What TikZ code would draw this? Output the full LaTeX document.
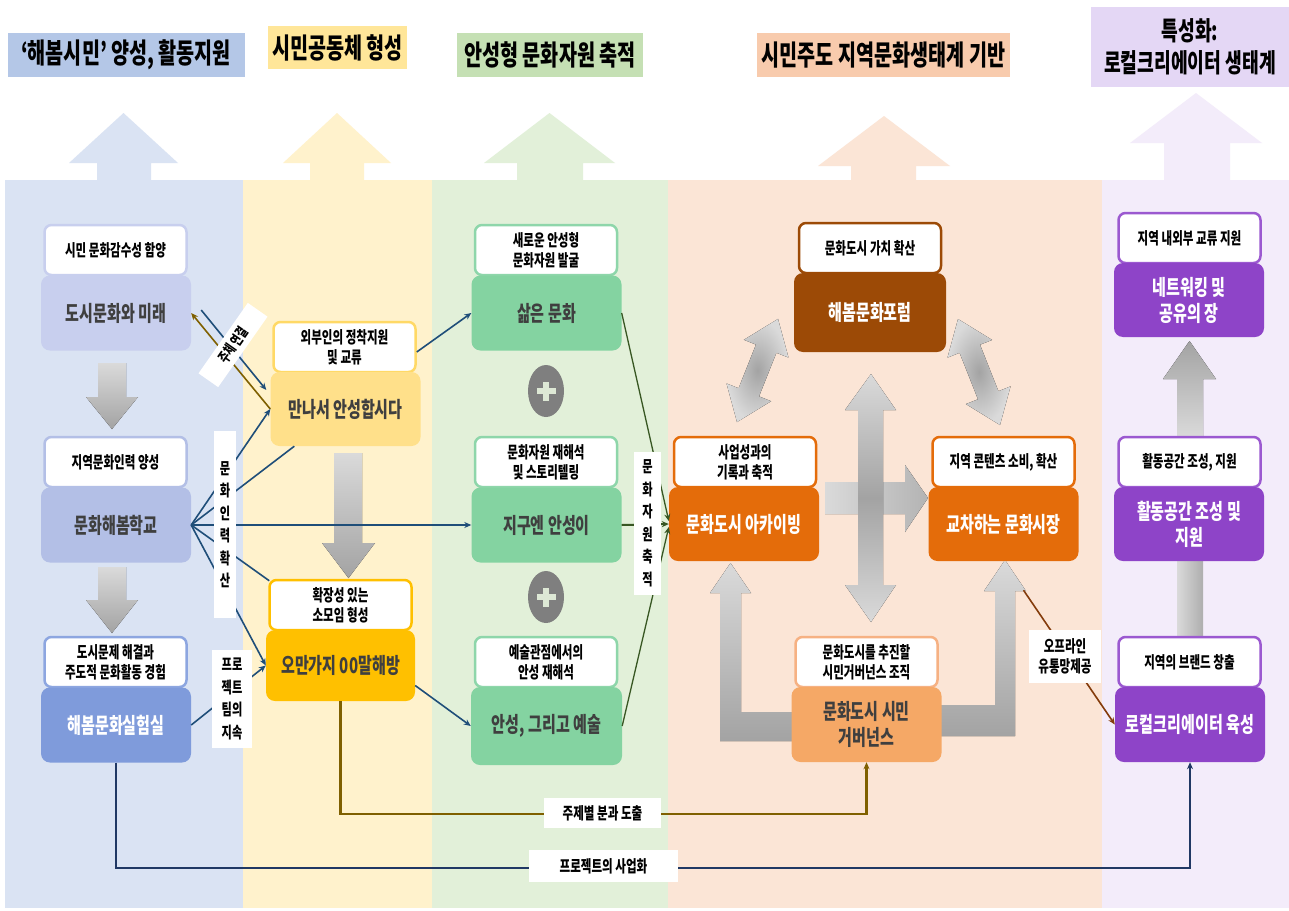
\documentclass[tikz,border=0pt]{standalone}
\usepackage{fontspec}
\setmainfont{Noto Sans CJK KR}[FakeStretch=0.7]
\usetikzlibrary{arrows.meta,calc,shapes.geometric}
\definecolor{bgA}{HTML}{DAE3F3}
\definecolor{bgB}{HTML}{FFF2CC}
\definecolor{bgC}{HTML}{E2F0D9}
\definecolor{bgD}{HTML}{FBE5D6}
\definecolor{bgE}{HTML}{F3ECFA}
\definecolor{hdA}{HTML}{B4C7E7}
\definecolor{hdB}{HTML}{FFE699}
\definecolor{hdC}{HTML}{C5E0B4}
\definecolor{hdD}{HTML}{F8CBAD}
\definecolor{hdE}{HTML}{E4D7F5}
\definecolor{cOneA}{HTML}{C8CFEE}
\definecolor{cOneB}{HTML}{B3BFE6}
\definecolor{cOneC}{HTML}{7F9BDB}
\definecolor{bOneC}{HTML}{8DA6E0}
\definecolor{cTwoA}{HTML}{FFE08A}
\definecolor{bTwoA}{HTML}{FFD966}
\definecolor{cTwoB}{HTML}{FFC000}
\definecolor{cThr}{HTML}{84D3A1}
\definecolor{bThr}{HTML}{8ED6AA}
\definecolor{cFourA}{HTML}{9C4A06}
\definecolor{cFourB}{HTML}{E46C0A}
\definecolor{cFourD}{HTML}{F5A866}
\definecolor{bFourD}{HTML}{F6B183}
\definecolor{cFive}{HTML}{8E44C8}
\definecolor{bFive}{HTML}{9B59D0}
\definecolor{tdark}{HTML}{3F3F3F}
\definecolor{lBlue}{HTML}{1F4E79}
\definecolor{lBrown}{HTML}{7F6000}
\definecolor{lGreen}{HTML}{385723}
\definecolor{lNavy}{HTML}{203864}
\definecolor{lBrownB}{HTML}{843C0C}
\definecolor{gL}{HTML}{DADADA}
\definecolor{gD}{HTML}{A3A3A3}
\definecolor{cPlus}{HTML}{7F7F7F}
\definecolor{cPlusIn}{HTML}{DDE8D5}
\newcommand\fhead{\bfseries\fontsize{28}{32}\selectfont}
\newcommand\fmain{\bfseries\fontsize{21.5}{26}\selectfont}
\newcommand\fhdr{\bfseries\fontsize{16.5}{20}\selectfont}
\newcommand\flab{\bfseries\fontsize{15}{20}\selectfont}
\newcommand\flabr{\bfseries\fontsize{14.5}{18}\selectfont}
\newcommand\flabv{\bfseries\fontsize{16}{22.5}\selectfont}
\begin{document}
\begin{tikzpicture}[x=1pt,y=-1pt,
  hdr/.style={draw=#1, fill=white, rounded corners=7pt, line width=2.5pt, minimum width=142pt, minimum height=50pt, inner sep=0pt, align=center, font=\fhdr},
  mbox/.style 2 args={fill=#1, text=#2, rounded corners=9pt, minimum width=150pt, minimum height=75pt, inner sep=0pt, align=center, font=\fmain},
  headbox/.style={fill=#1, inner sep=0pt, align=center, font=\fhead},
  lab/.style={fill=white, inner sep=0pt, align=center, font=\flab},
  ln/.style={draw=#1, line width=1.6pt},
  tip/.style={-{Stealth[length=7pt,width=6pt]}},
  greyv/.style={top color=gL, bottom color=gD},
  greyr/.style={inner color=gD, outer color=gL}]

% canvas
\path[fill=white] (0,0) rectangle (1289,910);
% columns
\fill[bgA] (5,180) rectangle (243,908);
\fill[bgB] (243,180) rectangle (432,908);
\fill[bgC] (432,180) rectangle (668,908);
\fill[bgD] (668,180) rectangle (1102,908);
\fill[bgE] (1102,180) rectangle (1289,908);

% big up arrows
\fill[bgA] (123.5,113) -- (178,163) -- (151,163) -- (151,181) -- (97,181) -- (97,163) -- (69,163) -- cycle;
\fill[bgB] (337,113) -- (391,163) -- (364,163) -- (364,181) -- (310,181) -- (310,163) -- (283,163) -- cycle;
\fill[bgC] (549.5,113) -- (615,163) -- (583,163) -- (583,181) -- (517,181) -- (517,163) -- (484,163) -- cycle;
\fill[bgD] (884,116) -- (950,166) -- (916,166) -- (916,181) -- (851,181) -- (851,166) -- (818,166) -- cycle;
\fill[bgE] (1196,93) -- (1262,143) -- (1230,143) -- (1230,181) -- (1164,181) -- (1164,143) -- (1130,143) -- cycle;

% headings
\node[headbox=hdA, minimum width=237pt, minimum height=44pt] (H1) at (126,55) {‘해봄시민’ 양성, 활동지원};
\node[headbox=hdB, minimum width=139pt, minimum height=43pt] (H2) at (337.5,47.5) {시민공동체 형성};
\node[headbox=hdC, minimum width=186pt, minimum height=44pt] (H3) at (550,55) {안성형 문화자원 축적};
\node[headbox=hdD, minimum width=253pt, minimum height=44pt] (H4) at (883.5,55) {시민주도 지역문화생태계 기반};
\node[headbox=hdE, minimum width=198pt, minimum height=80pt, font=\bfseries\fontsize{26}{32}\selectfont] (H5) at (1190,47) {특성화:\\로컬크리에이터 생태계};

% grey block arrows
\fill[greyv] (98,363) -- (126,363) -- (126,397) -- (138,397) -- (112,429) -- (86,397) -- (98,397) -- cycle;
\fill[greyv] (98,567) -- (126,567) -- (126,600) -- (138,600) -- (112,633) -- (86,600) -- (98,600) -- cycle;
\fill[greyv] (334,453) -- (362,453) -- (362,543) -- (375,543) -- (348.5,578) -- (322,543) -- (334,543) -- cycle;
\fill[top color=gD, bottom color=gL] (1189.5,341) -- (1216,379) -- (1203,379) -- (1203,437) -- (1177,437) -- (1177,379) -- (1163,379) -- cycle;
\fill[left color=gL, right color=gD!80!gL] (1177,559) rectangle (1203,637);
% centre cross
\fill[left color=gL, right color=gD!70!gL] (825,482) -- (905,482) -- (905,465) -- (928,498) -- (905,532) -- (905,514) -- (825,514) -- cycle;
\fill[top color=gL, bottom color=gL, middle color=gD] (871,374) -- (896,410) -- (883,410) -- (883,585) -- (896,585) -- (871,622) -- (845,585) -- (858,585) -- (858,410) -- (845,410) -- cycle;
\begin{scope}[shift={(757.5,370.5)}, rotate=68.3]
\fill[greyr] (-55.5,0) -- (-23.5,24) -- (-23.5,11) -- (23.5,11) -- (23.5,24) -- (55.5,0) -- (23.5,-24) -- (23.5,-11) -- (-23.5,-11) -- (-23.5,-24) -- cycle;
\end{scope}
\begin{scope}[shift={(979,372)}, rotate=111.6]
\fill[greyr] (-57,0) -- (-25,24) -- (-25,11) -- (25,11) -- (25,24) -- (57,0) -- (25,-24) -- (25,-11) -- (-25,-11) -- (-25,-24) -- cycle;
\end{scope}
% L arrows from governance
\fill[top color=gL, bottom color=gD] (792,712) -- (741,712) -- (741,593) -- (751,593) -- (730.5,563) -- (710,593) -- (720,593) -- (720,741) -- (792,741) -- cycle;
\fill[top color=gL, bottom color=gD] (941,705) -- (995,705) -- (995,591) -- (984,591) -- (1005,560) -- (1026,591) -- (1015,591) -- (1015,736) -- (941,736) -- cycle;

% column 1
\node[hdr=cOneA] (h1a) at (115.5,250) {시민 문화감수성 함양};
\node[mbox={cOneA}{tdark}] (m1a) at (116,313) {도시문화와 미래};
\node[hdr=cOneB] (h1b) at (115.5,462) {지역문화인력 양성};
\node[mbox={cOneB}{tdark}] (m1b) at (116,525) {문화해봄학교};
\node[hdr=bOneC] (h1c) at (115.5,662) {도시문제 해결과\\주도적 문화활동 경험};
\node[mbox={cOneC}{white}] (m1c) at (116,725) {해봄문화실험실};

% column 2
\node[hdr=bTwoA] (h2a) at (344.5,347) {외부인의 정착지원\\및 교류};
\node[mbox={cTwoA}{tdark}, minimum height=74pt] (m2a) at (345.5,409) {만나서 안성합시다};
\node[hdr=cTwoB] (h2b) at (340.5,605) {확장성 있는\\소모임 형성};
\node[mbox={cTwoB}{tdark}, minimum width=149pt, minimum height=71pt] (m2b) at (340.5,665.5) {오만가지 00말해방};

% column 3
\node[hdr=bThr] (h3a) at (546,250) {새로운 안성형\\문화자원 발굴};
\node[mbox={cThr}{tdark}] (m3a) at (546.5,313) {삶은 문화};
\node[hdr=bThr] (h3b) at (546,462) {문화자원 재해석\\및 스토리텔링};
\node[mbox={cThr}{tdark}] (m3b) at (546.5,525) {지구엔 안성이};
\node[hdr=bThr] (h3c) at (546,662) {예술관점에서의\\안성 재해석};
\node[mbox={cThr}{tdark}, minimum width=151pt, minimum height=78pt] (m3c) at (546.5,726) {안성, 그리고 예술};
\node[ellipse, fill=cPlus, minimum width=36pt, minimum height=52pt, inner sep=0pt] (p1) at (546,391) {};
\node[ellipse, fill=cPlus, minimum width=36pt, minimum height=52pt, inner sep=0pt] (p2) at (546,597) {};
\foreach \p in {p1,p2}{
  \fill[cPlusIn] ($(\p)+(-9.5,-2.6)$) rectangle ($(\p)+(9.5,2.6)$);
  \fill[cPlusIn] ($(\p)+(-2.6,-9.5)$) rectangle ($(\p)+(2.6,9.5)$);
}

% column 4
\node[hdr=cFourA] (h4a) at (870,248) {문화도시 가치 확산};
\node[mbox={cFourA}{white}, minimum width=152pt, minimum height=79pt] (m4a) at (870,312.5) {해봄문화포럼};
\node[hdr=cFourB] (h4b) at (745,462) {사업성과의\\기록과 축적};
\node[mbox={cFourB}{white}, minimum height=74pt] (m4b) at (744,524) {문화도시 아카이빙};
\node[hdr=cFourB] (h4c) at (1003.5,462) {지역 콘텐츠 소비, 확산};
\node[mbox={cFourB}{white}, minimum height=74pt] (m4c) at (1003.5,524) {교차하는 문화시장};
\node[hdr=bFourD] (h4d) at (866.5,662) {문화도시를 추진할\\시민거버넌스 조직};
\node[mbox={cFourD}{tdark}] (m4d) at (866.5,724.5) {문화도시 시민\\거버넌스};

% column 5
\node[hdr=bFive] (h5a) at (1189.5,238) {지역 내외부 교류 지원};
\node[mbox={cFive}{white}, minimum height=74pt] (m5a) at (1189,300) {네트워킹 및\\공유의 장};
\node[hdr=bFive] (h5b) at (1189.5,462) {활동공간 조성, 지원};
\node[mbox={cFive}{white}, minimum height=74pt] (m5b) at (1189,524) {활동공간 조성 및\\지원};
\node[hdr=bFive] (h5c) at (1189.5,662) {지역의 브랜드 창출};
\node[mbox={cFive}{white}] (m5c) at (1190,724.5) {로컬크리에이터 육성};

% connectors
\draw[ln=lBrown, tip] (m2a.west) -- (m1a.east);
\draw[ln=lBlue, tip] ($(m1a.east)+(10,-3)$) -- ($(m2a.west)+(-4,-19)$);
\draw[ln=lBlue, tip] (m1b.east) -- (m2a.west);
\draw[ln=lBlue] (m1b.east) -- ($(m2a.south west)+(24,0)$);
\draw[ln=lBlue, tip] (m1b.east) -- (m3b.west);
\draw[ln=lBlue] (m1b.east) -- ($(h2b.north west)+(1,2)$);
\draw[ln=lBlue, tip] (m1b.east) -- (m2b.west);
\draw[ln=lBlue, tip] (m1c.east) -- (m2b.west);
\draw[ln=lBlue, tip] ($(h2a.east)+(0,5)$) -- (m3a.west);
\draw[ln=lBlue, tip] ($(m2b.east)+(0,20)$) -- (m3c.west);
\draw[ln=lGreen, line width=1.3pt, tip] (m3a.east) -- ($(m4b.west)+(0,-3)$);
\draw[ln=lGreen, line width=2pt, tip] (m3b.east) -- (m4b.west);
\draw[ln=lGreen, line width=1.3pt, tip] (m3c.east) -- ($(m4b.west)+(0,3)$);
\coordinate (yOl) at (0,814);
\coordinate (yNv) at (0,868);
\draw[ln=lBrown, line width=2.4pt, tip] (m2b.south) -- (m2b.south |- yOl) -| (m4d.south);
\draw[ln=lNavy, line width=2.4pt, tip] (m1c.south) -- (m1c.south |- yNv) -| (m5c.south);
\draw[ln=lBrownB, tip] ($(m4c.south)+(20,29)$) -- (m5c.west);

% labels
\node[lab, rotate=55, minimum width=86pt, minimum height=24pt, font=\flabr] (lJu) at (233,345) {주체 연결};
\node[lab, minimum width=22pt, minimum height=187pt, font=\flabv] (lMun) at (225,524.5) {문\\화\\인\\력\\확\\산};
\node[lab, minimum width=40pt, minimum height=98pt, font=\flabv] (lPj) at (232,699) {프로\\젝트\\팀의\\지속};
\node[lab, minimum width=27pt, minimum height=143pt, font=\flabv] (lJa) at (647.5,523.5) {문\\화\\자\\원\\축\\적};
\node[lab, minimum width=117pt, minimum height=30pt, font=\fhdr] (lOl) at (602.5,813) {주제별 분과 도출};
\node[lab, minimum width=149pt, minimum height=32pt, font=\fhdr] (lNv) at (603.5,866) {프로젝트의 사업화};
\node[lab, minimum width=72pt, minimum height=53pt, font=\fhdr] (lOff) at (1065,656.5) {오프라인\\유통망제공};
\end{tikzpicture}
\end{document}
